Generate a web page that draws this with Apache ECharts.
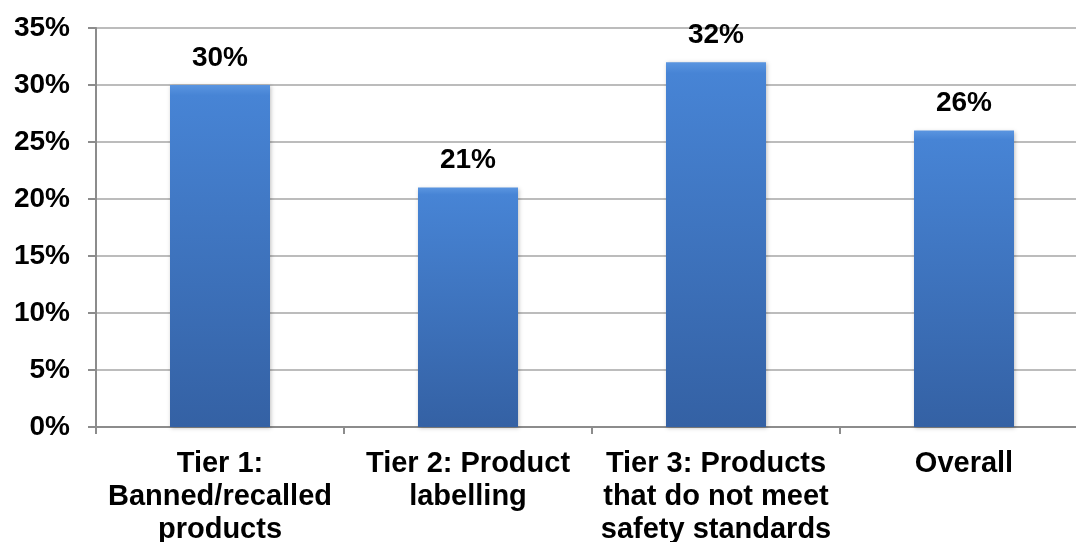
<!DOCTYPE html>
<html><head><meta charset="utf-8">
<script src="https://cdn.jsdelivr.net/npm/echarts@6/dist/echarts.min.js"></script>
<style>html,body{margin:0;padding:0;background:#fff}#c{width:1076px;height:542px}</style>
</head><body><div id="c"></div>
<script>
const categories = ['Tier 1:\nBanned/recalled\nproducts', 'Tier 2: Product\nlabelling', 'Tier 3: Products\nthat do not meet\nsafety standards', 'Overall'];
const values = [30, 21, 32, 26];
const yTicks = [0, 5, 10, 15, 20, 25, 30, 35];

const chart = echarts.init(document.getElementById('c'));
const font = '"Liberation Sans", Arial, sans-serif';
chart.setOption({
  animation: false,
  grid: { left: 96, width: 992, top: 28, bottom: 115, containLabel: false, outerBoundsMode: 'none' },
  xAxis: {
    type: 'category', data: categories,
    axisLine: { lineStyle: { color: '#8c8c8c', width: 2 } },
    axisTick: { show: true, length: 7, lineStyle: { color: '#8c8c8c', width: 2 } },
    axisLabel: { color: '#000', fontFamily: font, fontWeight: 'bold', fontSize: 29, lineHeight: 33, margin: 20, interval: 0 }
  },
  yAxis: {
    type: 'value', min: 0, max: 35, interval: 5,
    axisLine: { show: true, lineStyle: { color: '#8c8c8c', width: 2 } },
    axisTick: { show: true, length: 8, lineStyle: { color: '#8c8c8c', width: 2 } },
    splitLine: { lineStyle: { color: '#a6a6a6', width: 1.5 } },
    axisLabel: { color: '#000', fontFamily: font, fontWeight: 'bold', fontSize: 28, margin: 26,
      formatter: v => yTicks.includes(v) ? v + '%' : '' }
  },
  series: [{
    type: 'bar', data: values, barWidth: 100,
    itemStyle: {
      color: new echarts.graphic.LinearGradient(0, 0, 0, 1, [
        { offset: 0, color: '#5a95e0' },
        { offset: 0.03, color: '#4784d5' },
        { offset: 1, color: '#3461a4' }
      ]),
      shadowColor: 'rgba(0,0,0,0.25)', shadowBlur: 4, shadowOffsetX: 1, shadowOffsetY: 1
    },
    label: { show: true, position: 'top', distance: 13, color: '#000', fontFamily: font, fontWeight: 'bold', fontSize: 28,
      formatter: p => p.value + '%' }
  }]
});
</script></body></html>
